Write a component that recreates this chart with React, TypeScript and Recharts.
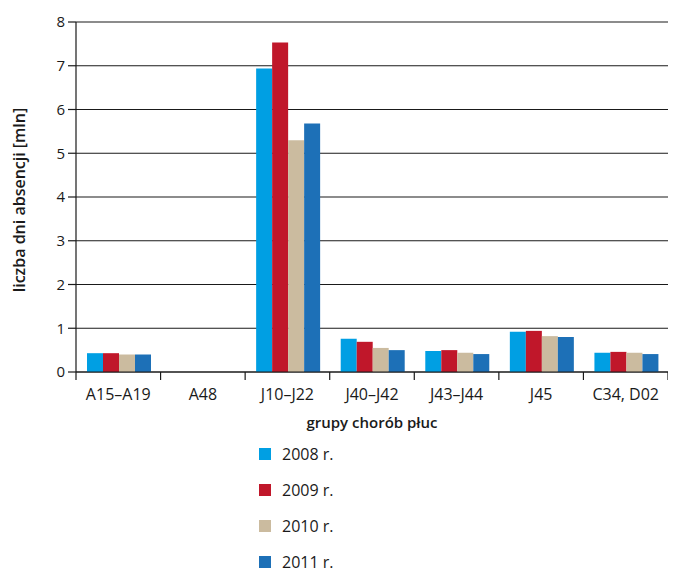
import { BarChart, Bar, XAxis, YAxis, CartesianGrid, Legend } from "recharts";

const categories = ["A15–A19", "A48", "J10–J22", "J40–J42", "J43–J44", "J45", "C34, D02"];
const years = ["2008 r.", "2009 r.", "2010 r.", "2011 r."];
const values2008 = [0.43, 0, 6.94, 0.76, 0.48, 0.92, 0.44];
const values2009 = [0.43, 0, 7.53, 0.69, 0.5, 0.94, 0.46];
const values2010 = [0.4, 0, 5.3, 0.55, 0.44, 0.82, 0.44];
const values2011 = [0.4, 0, 5.68, 0.5, 0.41, 0.8, 0.41];
const yTicks = [0, 1, 2, 3, 4, 5, 6, 7, 8];

const colors = ["#009fe3", "#c0172a", "#cbbb9f", "#1d70b7"];
const keys = ["y2008", "y2009", "y2010", "y2011"];
const FONT = "'Open Sans', sans-serif";
const INK = "#1a1a1a";

const data = categories.map((name, i) => ({
  name,
  y2008: values2008[i],
  y2009: values2009[i],
  y2010: values2010[i],
  y2011: values2011[i],
}));

// category labels plus tick marks on the boundaries between categories
function CategoryTick(props: any) {
  const { x, y, payload, index, visibleTicksCount } = props;
  const half = payload?.offset ?? 0;
  const axisY = y - 8;
  const last = index === (visibleTicksCount ?? categories.length) - 1;
  return (
    <g>
      <line x1={x - half} y1={axisY} x2={x - half} y2={axisY + 8} stroke={INK} strokeWidth={1.2} />
      {last && (
        <line x1={x + half} y1={axisY} x2={x + half} y2={axisY + 8} stroke={INK} strokeWidth={1.2} />
      )}
      <text x={x} y={y + 20} textAnchor="middle" fontSize={16} fill={INK} fontFamily={FONT}>
        {payload.value}
      </text>
    </g>
  );
}

function YearLegend() {
  return (
    <div style={{ fontFamily: FONT, fontSize: 16, lineHeight: "16px", color: INK }}>
      {years.map((label, i) => (
        <div key={label} style={{ height: 36, display: "flex", alignItems: "center" }}>
          <span style={{ width: 12, height: 12, background: colors[i], marginRight: 11 }} />
          <span>{label}</span>
        </div>
      ))}
    </div>
  );
}

export default function App() {
  return (
    <BarChart
      width={660}
      height={565}
      data={data}
      margin={{ top: 14, right: 0, left: 0, bottom: 141 }}
      barCategoryGap="13%"
      barGap={0}
    >
      <CartesianGrid vertical={false} stroke={INK} strokeWidth={1.2} />
      <XAxis
        dataKey="name"
        height={60}
        interval={0}
        tickLine={false}
        tickSize={8}
        tickMargin={0}
        axisLine={{ stroke: INK, strokeWidth: 1.2 }}
        tick={<CategoryTick />}
        label={{
          content: ({ viewBox }: any) => (
            <text
              x={viewBox.x + viewBox.width / 2}
              y={viewBox.y + 56}
              textAnchor="middle"
              fontSize={15}
              fontWeight={600}
              fill={INK}
              fontFamily={FONT}
            >
              grupy chorób płuc
            </text>
          ),
        }}
      />
      <YAxis
        width={68}
        domain={[0, 8]}
        ticks={yTicks}
        interval={0}
        tickSize={8}
        tickMargin={3}
        axisLine={{ stroke: INK, strokeWidth: 1.2 }}
        tickLine={{ stroke: INK, strokeWidth: 1.2 }}
        tick={{ fontSize: 15, fill: INK, fontFamily: FONT }}
        label={{
          content: ({ viewBox }: any) => {
            const cx = 11;
            const cy = viewBox.y + viewBox.height / 2 + 3;
            return (
              <text
                x={cx}
                y={cy}
                transform={`rotate(-90 ${cx} ${cy})`}
                textAnchor="middle"
                dominantBaseline="central"
                fontSize={16}
                fontWeight={600}
                fill={INK}
                fontFamily={FONT}
              >
                liczba dni absencji [mln]
              </text>
            );
          },
        }}
      />
      {/* zero-height wrapper so the legend does not shrink the plot area */}
      <Legend
        layout="vertical"
        align="center"
        verticalAlign="bottom"
        content={<YearLegend />}
        wrapperStyle={{ left: 251, top: 428, width: 150, height: 0, overflow: "visible" }}
      />
      {keys.map((k, i) => (
        <Bar key={k} dataKey={k} name={years[i]} fill={colors[i]} isAnimationActive={false} />
      ))}
    </BarChart>
  );
}
